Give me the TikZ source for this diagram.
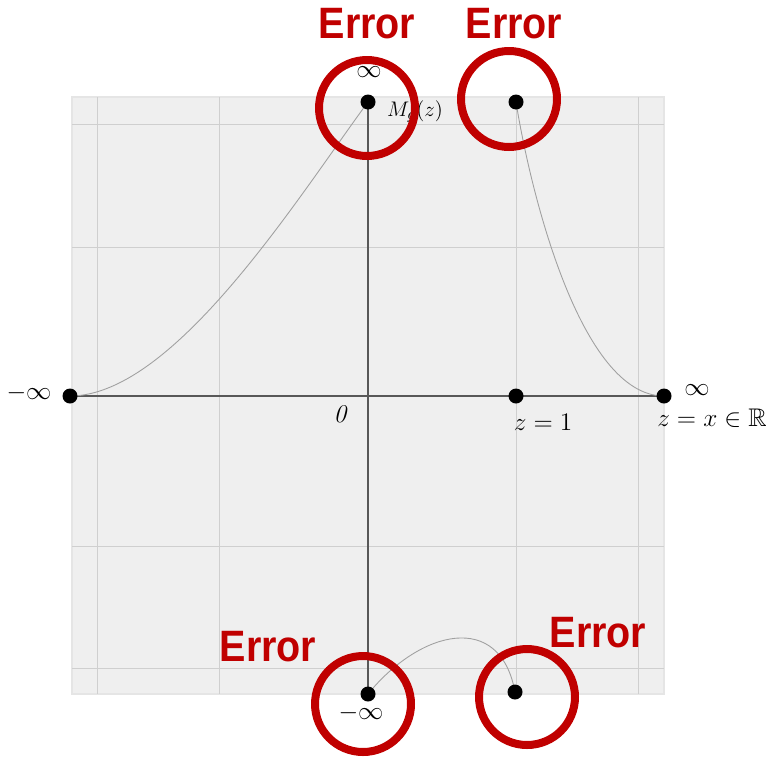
\documentclass[tikz,border=0pt]{standalone}
\usepackage{amssymb}
\usepackage{fontspec}
\usetikzlibrary{backgrounds}
\newfontfamily\errfont[FakeStretch=0.9]{Liberation Sans}
\definecolor{errred}{HTML}{C00000}
\definecolor{panel}{HTML}{EFEFEF}
\definecolor{gridgray}{HTML}{CFCFCF}
\definecolor{axisgray}{HTML}{585858}
\definecolor{curvegray}{HTML}{A0A0A0}

\begin{document}
\begin{tikzpicture}[
    x=0.02cm, y=-0.02cm,
    dot/.style={circle, fill=black, inner sep=0pt, minimum size=0.3cm},
    ring/.style={circle, draw=errred, line width=0.16cm, minimum size=1.92cm, inner sep=0pt},
    errlabel/.style={text=errred, font=\errfont\bfseries\fontsize{25}{30}\selectfont},
    lbl/.style={font=\fontsize{14.5}{17}\selectfont, inner sep=1pt},
    gridline/.style={gridgray, line width=0.5pt},
    axisline/.style={axisgray, line width=1pt},
    curve/.style={curvegray, line width=0.5pt}
]
    \useasboundingbox (0,0) rectangle (766,758);

    % Points
    \node[dot] (top) at (368,102) {};
    \node[dot] (topr) at (516,102) {};
    \node[dot] (ninf) at (70,396) {};
    \node[dot] (one) at (516,396) {};
    \node[dot] (pinf) at (664,396) {};
    \node[dot] (bot) at (368,694) {};
    \node[dot] (botr) at (515,692) {};

    \begin{pgfonlayer}{background}
        % Panel and grid
        \fill[panel] (72,97) rectangle (664,694);
        \draw[gray!20, line width=1.2pt] (72,97) rectangle (664,694);
        \foreach \x in {97,219,516,638}
            \draw[gridline] (\x,97) -- (\x,694);
        \foreach \y in {124,247,546,668}
            \draw[gridline] (72,\y) -- (664,\y);
        % Axes
        \draw[axisline] (ninf.center) -- (pinf.center);
        \draw[axisline] (top.center) -- (bot.center);
        % Curves
        \draw[curve] (ninf.center) .. controls (175,396) and (300,194) .. (top.center);
        \draw[curve] (topr.center) .. controls (530,190) and (580,396) .. (pinf.center);
        \draw[curve] (bot.center) .. controls (420,630) and (500,610) .. (botr.center);
    \end{pgfonlayer}

    % Labels
    \node[lbl] (inftop) at (369,72) {$\infty$};
    \node[lbl, anchor=west, font=\fontsize{13}{15}\selectfont] (mg) at (385,112) {$M_g(z)$};
    \node[lbl] (ninflbl) at (29,393) {$-\infty$};
    \node[lbl] (zero) at (340,414) {$\mathit{0}$};
    \node[lbl] (onelbl) at (543,422) {$z=1$};
    \node[lbl] (pinflbl) at (697,390) {$\infty$};
    \node[lbl] (reals) at (712,418) {$z=x\in\mathbb{R}$};
    \node[lbl] (infbot) at (361,713) {$-\infty$};

    % Error marks
    \node[ring] (ring1) at (367,108) {};
    \node[ring] (ring2) at (509,99) {};
    \node[ring] (ring3) at (363,704) {};
    \node[ring] (ring4) at (527,697) {};
    \node[errlabel] (err1) at (367,24) {Error};
    \node[errlabel] (err2) at (514,24) {Error};
    \node[errlabel] (err3) at (268,647) {Error};
    \node[errlabel] (err4) at (598,633) {Error};
\end{tikzpicture}
\end{document}
